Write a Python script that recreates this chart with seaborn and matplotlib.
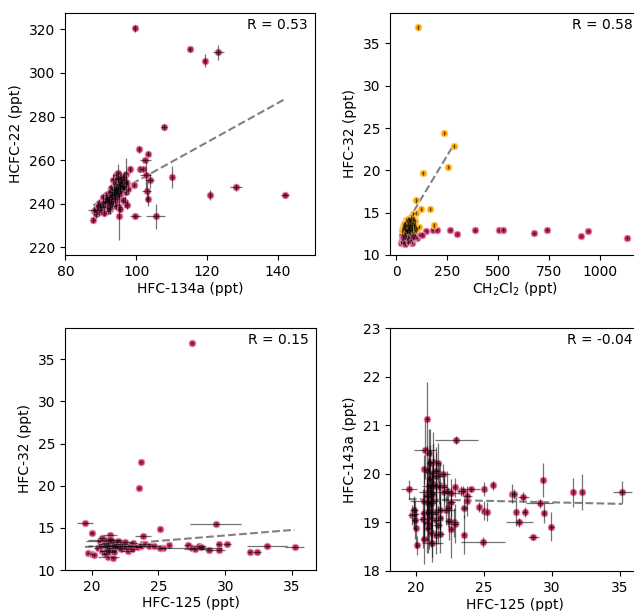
import numpy as np
import matplotlib
matplotlib.use("Agg")
import matplotlib.pyplot as plt
import seaborn as sns

# Colours
CRIMSON = "#bd2a62"
ORANGE = "#ffa500"

# ---- Panel 1: HFC-134a vs HCFC-22 ----
p1_x = [99.6, 115.1, 119.3, 123.2, 107.8, 100.7, 103.3, 110.2, 120.9, 128.2, 142.0,
        99.8, 105.5, 95.1, 98.3, 101.0, 101.8, 102.7, 103.0, 103.8, 103.2, 97.0, 99.5, 102.6,
        87.9, 88.2, 88.6, 89.0, 89.4, 89.8, 89.5, 90.1, 90.3, 90.7, 90.9, 91.2, 91.5, 91.8,
        92.0, 92.1, 92.3, 92.5, 92.8, 93.0, 93.1, 93.3, 93.5, 93.6, 93.8, 94.0, 94.1, 94.3,
        94.5, 94.6, 94.8, 95.0, 95.1, 95.3, 95.4, 95.6, 95.8, 96.0, 96.2, 96.4, 96.7, 97.0,
        96.9, 95.2, 94.2, 92.6, 91.0, 93.4, 94.4, 95.0, 96.5, 97.3, 97.8, 91.6, 90.5, 92.9,
        96.2, 97.5, 95.4, 94.0, 88.3, 92.0, 95.0,
        91.3, 91.9, 92.4, 92.7, 93.2, 93.7, 93.9, 94.4, 94.7, 94.9, 95.2, 95.5, 95.7, 96.1,
        93.0, 93.6, 94.2, 94.8, 95.3, 92.2, 96.6, 97.1, 90.0, 89.2]
p1_y = [320.5, 310.8, 305.6, 309.5, 275.3, 264.9, 263.0, 252.4, 244.0, 247.5, 244.0,
        234.3, 234.3, 234.2, 255.8, 256.0, 256.0, 253.0, 245.8, 250.8, 242.0, 253.5, 248.5, 260.0,
        232.6, 236.8, 235.2, 237.5, 236.0, 238.9, 240.5, 237.2, 239.8, 241.0, 238.3, 240.2, 242.3, 239.4,
        236.8, 241.5, 243.2, 240.1, 244.0, 242.2, 239.0, 245.2, 241.3, 243.8, 246.5, 244.1, 240.6, 247.8,
        245.3, 242.0, 249.2, 246.8, 243.5, 250.5, 248.0, 245.0, 252.2, 249.6, 246.7, 250.8, 248.3, 245.5,
        241.0, 238.5, 238.8, 237.5, 235.8, 251.0, 253.2, 254.3, 252.5, 249.5, 246.9, 243.8, 243.0, 247.2,
        241.8, 239.6, 237.8, 249.8, 237.2, 241.0, 251.2,
        241.2, 242.8, 242.0, 245.6, 243.4, 246.9, 242.6, 245.0, 247.2, 244.6, 248.8, 247.4, 249.9, 247.9,
        240.4, 244.9, 246.2, 251.8, 246.0, 238.0, 247.6, 250.2, 238.6, 239.2]
p1_xerr = [0.4, 0.5, 0.5, 1.5, 0.8, 0.3, 0.3, 0.3, 0.3, 1.8, 1.2,
           1.6, 2.7, 0.3, 0.3, 0.3, 0.3, 1.5, 1.3, 1.2, 0.3, 0.3, 0.3, 1.5,
           0.4, 0.5, 0.4, 0.4, 0.5, 0.4, 0.6, 0.4, 0.5, 0.4, 0.5, 0.4, 0.6, 0.4,
           0.5, 0.4, 0.5, 0.4, 0.6, 0.4, 0.5, 0.4, 0.5, 0.4, 0.6, 0.4, 0.5, 0.4,
           0.5, 0.4, 0.6, 0.4, 0.5, 0.4, 0.5, 0.4, 0.6, 0.4, 0.5, 0.4, 0.5, 0.4,
           0.5, 0.4, 0.5, 0.4, 0.5, 0.4, 0.6, 0.4, 0.5, 0.4, 0.5, 0.4, 0.5, 0.4,
           0.5, 0.4, 0.5, 0.4, 1.8, 1.5, 2.0,
           0.4, 0.5, 0.4, 0.6, 0.4, 0.5, 0.4, 0.5, 0.4, 0.6, 0.4, 0.5, 0.4, 0.5,
           0.4, 0.5, 0.4, 0.6, 0.4, 0.5, 0.4, 0.5, 0.4, 0.5]
p1_yerr = [1.5, 1.0, 3.0, 3.5, 1.5, 1.5, 1.0, 5.0, 2.5, 1.5, 1.0,
           1.0, 5.8, 11.0, 1.5, 1.5, 1.0, 6.0, 4.5, 3.5, 3.0, 7.5, 1.0, 1.0,
           1.5, 2.0, 1.5, 2.5, 1.5, 2.0, 1.5, 2.0, 1.5, 2.5, 1.5, 2.0, 1.5, 2.5,
           1.5, 2.0, 3.0, 2.0, 1.5, 2.5, 1.5, 3.0, 2.0, 1.5, 2.5, 2.0, 1.5, 3.0,
           2.0, 1.5, 2.5, 2.0, 1.5, 3.0, 2.0, 1.5, 2.5, 2.0, 1.5, 3.5, 2.0, 1.5,
           2.5, 2.0, 1.5, 2.0, 1.5, 2.5, 2.0, 4.0, 2.0, 1.5, 2.5, 2.0, 1.5, 2.0,
           1.5, 2.0, 1.5, 2.5, 1.0, 1.0, 1.0,
           1.5, 2.0, 1.5, 2.5, 2.0, 1.5, 2.0, 2.5, 1.5, 2.0, 1.5, 2.0, 2.5, 1.5,
           2.0, 1.5, 2.0, 2.5, 1.5, 2.0, 1.5, 2.0, 1.5, 2.0]
p1_fit = (0.9, 288.0, 142.0)   # slope, y at anchor, anchor x
p1_r = "R = 0.53"

# ---- Panel 2: CH2Cl2 vs HFC-32 (two groups) ----
p2_hi_x = [104.6, 235, 281, 255, 129, 98, 167, 123, 96, 82, 183, 111, 49,
           40, 45, 52, 55, 58, 60, 62, 65, 68, 70, 72, 75, 78, 80, 84, 88,
           35, 42, 48, 57, 66, 74, 86, 90, 30, 38, 53, 63, 70, 79, 94, 62, 46, 100,
           33, 44, 56, 67, 76, 85, 92, 50, 60, 71,
           37, 43, 54, 61, 69, 77, 83, 89, 97, 58]
p2_hi_y = [36.9, 24.45, 22.85, 20.4, 19.7, 16.45, 15.45, 15.45, 15.0, 14.85, 13.5, 13.3, 14.1,
           13.2, 13.6, 13.0, 13.4, 13.8, 13.1, 13.5, 12.9, 13.3, 13.7, 14.2, 13.0, 13.5, 14.4, 13.8, 13.2,
           13.0, 12.9, 13.4, 12.9, 14.0, 14.5, 14.3, 13.0, 12.9, 13.5, 14.0, 12.85, 13.0, 12.95, 13.6, 14.3, 12.95, 13.1,
           13.3, 13.8, 13.2, 13.6, 13.9, 13.4, 14.0, 12.85, 13.95, 13.3,
           13.7, 13.25, 13.55, 13.25, 14.1, 13.25, 14.1, 13.55, 13.2, 14.3]
p2_lo_x = [147, 178, 198, 263, 299, 386, 503, 524, 676, 740, 908, 943, 1134,
           25, 77, 101, 113, 126, 30, 35, 40, 45, 50, 55, 60, 65, 70, 75, 80, 85, 90,
           38, 48, 58, 68, 28, 33, 43, 52, 62, 72, 82, 95, 42, 55,
           36, 46, 57, 66, 74, 84, 31, 41, 64, 88]
p2_lo_y = [12.85, 12.9, 12.95, 12.95, 12.5, 12.9, 12.9, 13.0, 12.55, 13.0, 12.25, 12.85, 12.05,
           11.45, 11.45, 12.05, 12.4, 12.4, 11.8, 12.2, 11.6, 12.5, 11.9, 12.3, 12.7, 11.7, 12.1, 12.6, 12.2, 12.75, 12.4,
           12.6, 12.8, 11.5, 12.85, 12.4, 11.5, 12.0, 12.65, 12.15, 11.8, 12.5, 12.8, 11.35, 11.6,
           12.0, 12.3, 12.0, 12.5, 12.35, 12.0, 12.1, 12.4, 12.6, 12.15]
p2_yerr_hi = 0.25
p2_yerr_lo = 0.15
p2_fit = (0.04, 22.84, 277.0)
p2_r = "R = 0.58"

# ---- Panel 3: HFC-125 vs HFC-32 ----
p3_x = [27.48, 23.66, 23.51, 19.50, 29.29, 20.0, 21.37, 23.86, 25.1, 25.8, 25.36, 25.08,
        27.23, 27.48, 27.73, 28.05, 28.2, 28.8, 29.5, 29.52, 30.17, 31.84, 32.4, 33.13, 35.2,
        19.75, 20.0, 20.17, 21.25, 21.6,
        20.5, 20.6, 20.7, 20.8, 20.9, 21.0, 21.0, 21.1, 21.15, 21.2, 21.3, 21.3, 21.4, 21.45,
        21.5, 21.55, 21.6, 21.7, 21.75, 21.8, 21.9, 22.0, 22.1, 22.2, 22.3, 22.4, 22.6, 22.7,
        22.9, 23.1, 23.3, 23.5, 23.7, 24.0, 24.3, 24.7, 20.95, 21.05, 22.5, 23.0, 21.25, 21.35,
        21.65, 20.75]
p3_y = [36.95, 22.86, 19.69, 15.54, 15.46, 14.4, 14.12, 14.0, 14.85, 13.0, 12.56, 12.6,
        12.96, 12.65, 12.5, 12.8, 12.7, 12.4, 12.4, 13.05, 13.06, 12.15, 12.15, 12.9, 12.75,
        12.0, 11.9, 11.8, 11.5, 11.4,
        12.6, 13.4, 12.9, 12.3, 13.1, 12.7, 13.5, 12.4, 12.9, 13.2, 12.6, 12.1, 13.0, 13.6,
        12.8, 12.4, 13.3, 12.9, 12.6, 13.1, 12.7, 13.4, 12.9, 12.5, 13.1, 12.8, 12.6, 12.3,
        12.9, 13.2, 12.9, 12.7, 12.9, 13.1, 12.8, 12.85, 12.05, 11.9, 13.3, 12.5, 12.25, 13.7,
        12.15, 13.8]
p3_xerr = [0.05, 0.05, 0.05, 0.6, 1.9, 0.1, 0.5, 0.6, 0.05, 0.1, 0.2, 0.3,
           0.3, 2.3, 0.8, 0.5, 0.3, 0.3, 0.5, 0.2, 0.3, 0.1, 0.3, 1.5, 0.7,
           0.1, 0.1, 0.1, 0.8, 0.1,
           0.3, 1.0, 0.3, 0.2, 0.4, 0.3, 1.3, 0.2, 0.3, 0.4, 0.3, 0.2, 0.5, 0.3,
           1.8, 0.3, 0.4, 0.3, 0.6, 0.3, 0.4, 0.3, 0.5, 0.3, 0.4, 0.6, 0.3, 0.5,
           0.4, 0.3, 0.6, 0.3, 0.4, 0.5, 0.3, 0.4, 0.2, 0.3, 0.5, 0.4, 0.6, 0.3,
           0.2, 0.3]
p3_yerr = 0.12
p3_fit = (0.13, 12.73, 19.5)
p3_r = "R = 0.15"

# ---- Panel 4: HFC-125 vs HFC-143a ----
p4_x = [20.81, 22.99, 20.69, 21.0, 21.25, 21.64, 21.05, 20.61, 22.03, 21.27, 21.52, 21.03,
        21.3, 21.7, 21.45, 20.95, 21.8, 22.1, 22.87, 23.3, 23.5, 24.04, 25.0, 25.68, 19.49,
        20.9, 20.85, 21.2, 20.6, 20.85, 21.2, 21.15, 22.1, 22.3, 22.6, 23.8, 23.8, 27.11, 27.2,
        27.92, 22.62, 22.4, 22.25, 23.55, 24.68, 25.0, 25.24, 27.35, 28.0, 19.7, 19.9, 19.95,
        19.85, 20.6, 20.9, 21.15, 21.5, 21.8, 20.55, 21.15, 21.5, 21.8, 20.8, 21.0, 21.6, 20.9,
        22.43, 22.8, 22.85, 27.62, 20.0, 22.62, 21.2, 21.5, 21.8, 23.53, 20.61, 21.22, 24.95,
        20.12, 28.63, 29.36, 29.12, 29.4, 29.98, 31.6, 32.26, 35.2, 20.8, 21.5]
p4_y = [21.13, 20.70, 20.49, 20.42, 20.25, 20.23, 20.22, 20.09, 20.0, 20.02, 19.95, 19.89,
        19.78, 19.77, 19.75, 19.74, 19.73, 19.72, 19.72, 19.65, 19.65, 19.68, 19.69, 19.76, 19.68,
        19.62, 19.55, 19.58, 19.45, 19.42, 19.45, 19.4, 19.62, 19.65, 19.6, 19.55, 19.44, 19.59, 19.58,
        19.53, 19.41, 19.3, 19.25, 19.3, 19.32, 19.24, 19.22, 19.22, 19.21, 19.15, 19.17, 19.05,
        19.25, 19.2, 19.22, 19.18, 19.22, 19.25, 19.08, 19.1, 19.05, 19.1, 18.98, 18.95, 18.95, 18.88,
        19.03, 19.0, 18.97, 19.0, 18.88, 18.86, 18.78, 18.75, 18.77, 18.75, 18.65, 18.58, 18.59,
        18.53, 18.69, 19.87, 19.39, 19.19, 18.91, 19.62, 19.62, 19.62, 20.08, 20.05]
p4_xerr = [0.15, 1.6, 0.8, 0.15, 0.3, 0.15, 0.2, 0.1, 0.5, 0.2, 0.4, 0.15,
           0.2, 0.3, 0.4, 0.5, 0.3, 0.2, 0.1, 0.3, 0.2, 0.7, 0.05, 0.05, 0.6,
           0.7, 0.3, 0.2, 1.0, 0.3, 0.4, 0.3, 0.5, 0.4, 0.6, 0.3, 0.1, 0.1, 0.2,
           0.4, 0.3, 0.2, 0.6, 0.2, 0.05, 0.05, 0.05, 0.05, 0.2, 0.3, 0.3, 0.2,
           0.3, 0.3, 0.2, 0.4, 0.2, 0.3, 0.3, 0.2, 0.3, 0.2, 0.3, 0.2, 0.3, 0.2,
           0.3, 0.4, 0.3, 1.0, 0.1, 0.1, 0.3, 0.2, 0.3, 0.1, 0.2, 0.8, 1.6,
           0.1, 0.4, 0.05, 1.0, 0.1, 0.2, 0.05, 0.05, 0.7, 0.2, 0.3]
p4_yerr = [0.75, 0.08, 0.6, 0.5, 0.6, 0.4, 0.7, 0.3, 0.2, 0.6, 0.5, 0.7,
           0.6, 0.4, 0.5, 0.6, 0.5, 0.3, 0.2, 0.1, 0.1, 0.05, 0.15, 0.1, 0.2,
           0.7, 0.5, 0.6, 0.7, 0.5, 0.6, 0.5, 0.3, 0.4, 0.3, 0.1, 0.3, 0.2, 0.1,
           0.1, 0.3, 0.4, 0.3, 0.2, 0.1, 0.2, 0.2, 0.3, 0.1, 0.2, 0.3, 0.4,
           0.3, 0.5, 0.6, 0.6, 0.5, 0.4, 0.6, 0.6, 0.5, 0.4, 0.6, 0.5, 0.4, 0.5,
           0.4, 0.3, 0.4, 0.1, 0.4, 0.6, 0.5, 0.4, 0.4, 0.4, 0.5, 0.4, 0.1,
           0.2, 0.05, 0.35, 0.1, 0.2, 0.3, 0.3, 0.37, 0.23, 0.5, 0.5]
p4_fit = (-0.0063, 19.48, 19.4)
p4_r = "R = -0.04"


def add_fit(ax, xs, fit):
    slope, y0, x0 = fit
    xx = np.array([min(xs), max(xs)])
    ax.plot(xx, y0 + slope * (xx - x0), ls="--", color="grey", lw=1.5, zorder=1.5)


def draw_points(ax, x, y, xerr, yerr, color, edge):
    sns.scatterplot(x=x, y=y, ax=ax, color=color, s=24, edgecolor=edge,
                    linewidth=0.6, zorder=2, legend=False)
    ax.errorbar(x, y, xerr=xerr, yerr=yerr, fmt="none", ecolor="k",
                elinewidth=0.9, alpha=0.55, zorder=3)


def add_r(ax, text):
    ax.text(0.97, 0.98, text, transform=ax.transAxes, ha="right", va="top",
            fontsize=10)


plt.rcParams["font.family"] = ["DejaVu Sans"]
plt.rcParams["font.size"] = 10

W, H = 634, 611
fig = plt.figure(figsize=(W / 100, H / 100), dpi=100)


def px_axes(l, t, r, b):
    return fig.add_axes([l / W, 1 - b / H, (r - l) / W, (b - t) / H])


ax1 = px_axes(65, 13, 315, 255)
ax2 = px_axes(390, 13, 640, 255)
ax3 = px_axes(65, 328, 316, 570)
ax4 = px_axes(390, 328, 640, 571)

# Panel 1
draw_points(ax1, p1_x, p1_y, p1_xerr, p1_yerr, CRIMSON, "#e8a0bc")
add_fit(ax1, p1_x, p1_fit)
add_r(ax1, p1_r)
ax1.set_xlim(79.9, 150.5)
ax1.set_ylim(216.5, 327.5)
ax1.set_xticks([80, 100, 120, 140])
ax1.set_yticks([220, 240, 260, 280, 300, 320])
ax1.set_xlabel("HFC-134a (ppt)", labelpad=2)
ax1.set_ylabel("HCFC-22 (ppt)")

# Panel 2
draw_points(ax2, p2_lo_x, p2_lo_y, 3.0, p2_yerr_lo, CRIMSON, "#e8a0bc")
draw_points(ax2, p2_hi_x, p2_hi_y, 3.0, p2_yerr_hi, ORANGE, "#ffd27a")
add_fit(ax2, p2_hi_x, p2_fit)
add_r(ax2, p2_r)
ax2.set_xlim(-31, 1196)
ax2.set_ylim(10, 38.6)
ax2.set_xticks([0, 250, 500, 750, 1000])
ax2.set_yticks([10, 15, 20, 25, 30, 35])
ax2.set_xlabel("CH$_2$Cl$_2$ (ppt)", labelpad=1)
ax2.set_ylabel("HFC-32 (ppt)")

# Panel 3
draw_points(ax3, p3_x, p3_y, p3_xerr, p3_yerr, CRIMSON, "#e8a0bc")
add_fit(ax3, p3_x, p3_fit)
add_r(ax3, p3_r)
ax3.set_xlim(18.0, 36.8)
ax3.set_ylim(10, 38.7)
ax3.set_xticks([20, 25, 30, 35])
ax3.set_yticks([10, 15, 20, 25, 30, 35])
ax3.set_xlabel("HFC-125 (ppt)", labelpad=2)
ax3.set_ylabel("HFC-32 (ppt)")

# Panel 4
draw_points(ax4, p4_x, p4_y, p4_xerr, p4_yerr, CRIMSON, "#e8a0bc")
add_fit(ax4, p4_x, p4_fit)
add_r(ax4, p4_r)
ax4.set_xlim(18.1, 36.5)
ax4.set_ylim(18, 23)
ax4.set_xticks([20, 25, 30, 35])
ax4.set_yticks([18, 19, 20, 21, 22, 23])
ax4.set_xlabel("HFC-125 (ppt)", labelpad=2)
ax4.set_ylabel("HFC-143a (ppt)")

fig.savefig("out.png", dpi=100)
